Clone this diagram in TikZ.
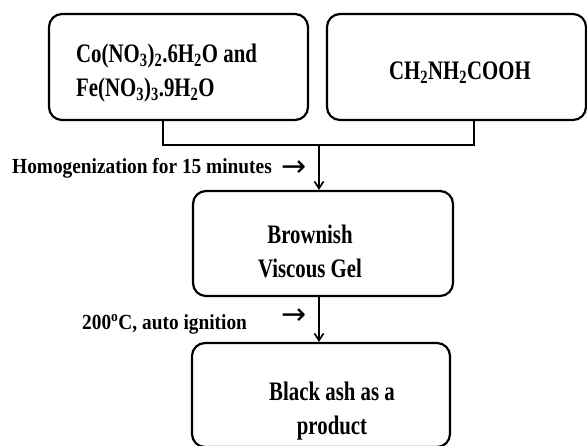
\documentclass[tikz,border=0pt]{standalone}
\usepackage{fontspec}
\setmainfont{Liberation Serif}
\newfontfamily\boxfont[FakeStretch=0.78]{Liberation Serif}
\newfontfamily\labfont[FakeStretch=0.90]{Liberation Serif}
\newfontfamily\arrfont{DejaVu Sans}
\usetikzlibrary{arrows.meta}
\begin{document}
\begin{tikzpicture}[x=1pt,y=-1pt,
  stepbox/.style={draw=black, line width=2.2pt, rounded corners=13pt, inner sep=0pt},
  boxtext/.style={font=\boxfont\bfseries\fontsize{26.7}{34}\selectfont, inner sep=0pt},
  labtext/.style={font=\labfont\bfseries\fontsize{21.5}{25}\selectfont, inner sep=0pt},
  arrtext/.style={font=\arrfont\fontsize{30}{30}\selectfont, inner sep=0pt},
  conn/.style={draw=black, line width=1.6pt},
  arr/.style={conn, -{Straight Barb[length=7pt,width=9pt,line width=1.6pt]}}]
\useasboundingbox (0,0) rectangle (587,445);
\clip (0,0) rectangle (587,445);
% boxes
\node[stepbox, minimum width=259pt, minimum height=106pt] (b1) at (178.5,67) {};
\node[stepbox, minimum width=259pt, minimum height=106pt] (b2) at (456.5,67) {};
\node[stepbox, minimum width=260pt, minimum height=105pt] (b3) at (323,243.5) {};
\node[stepbox, minimum width=258pt, minimum height=104pt] (b4) at (321,395) {};
% box texts
\node[boxtext, align=left, anchor=west] (t1) at (76,73)
  {Co(NO\textsubscript{3})\textsubscript{2}.6H\textsubscript{2}O and\\Fe(NO\textsubscript{3})\textsubscript{3}.9H\textsubscript{2}O};
\node[boxtext] (t2) at (460,73) {CH\textsubscript{2}NH\textsubscript{2}COOH};
\node[boxtext, align=center] (t3) at (310,251) {Brownish\\Viscous Gel};
\node[boxtext, align=center] (t4) at (332,411) {Black ash as a\\product};
% connectors
\coordinate (jl) at (163,145);
\coordinate (jr) at (474,145);
\coordinate (jm) at (319,145);
\draw[conn] (b1.south -| jl) -- (jl) -- (jr) -- (b2.south -| jr);
\draw[arr] (jm) -- (b3.north -| jm);
\draw[arr] (b3.south -| jm) -- (b4.north -| jm);
% labels
\node[labtext, anchor=base west] (l1) at (12,173) {Homogenization for 15 minutes};
\node[arrtext] (a1) at (294.5,169) {→};
\node[labtext, anchor=base west] (l2) at (82,329) {200\textsuperscript{o}C, auto ignition};
\node[arrtext] (a2) at (294.5,317) {→};
\end{tikzpicture}
\end{document}
